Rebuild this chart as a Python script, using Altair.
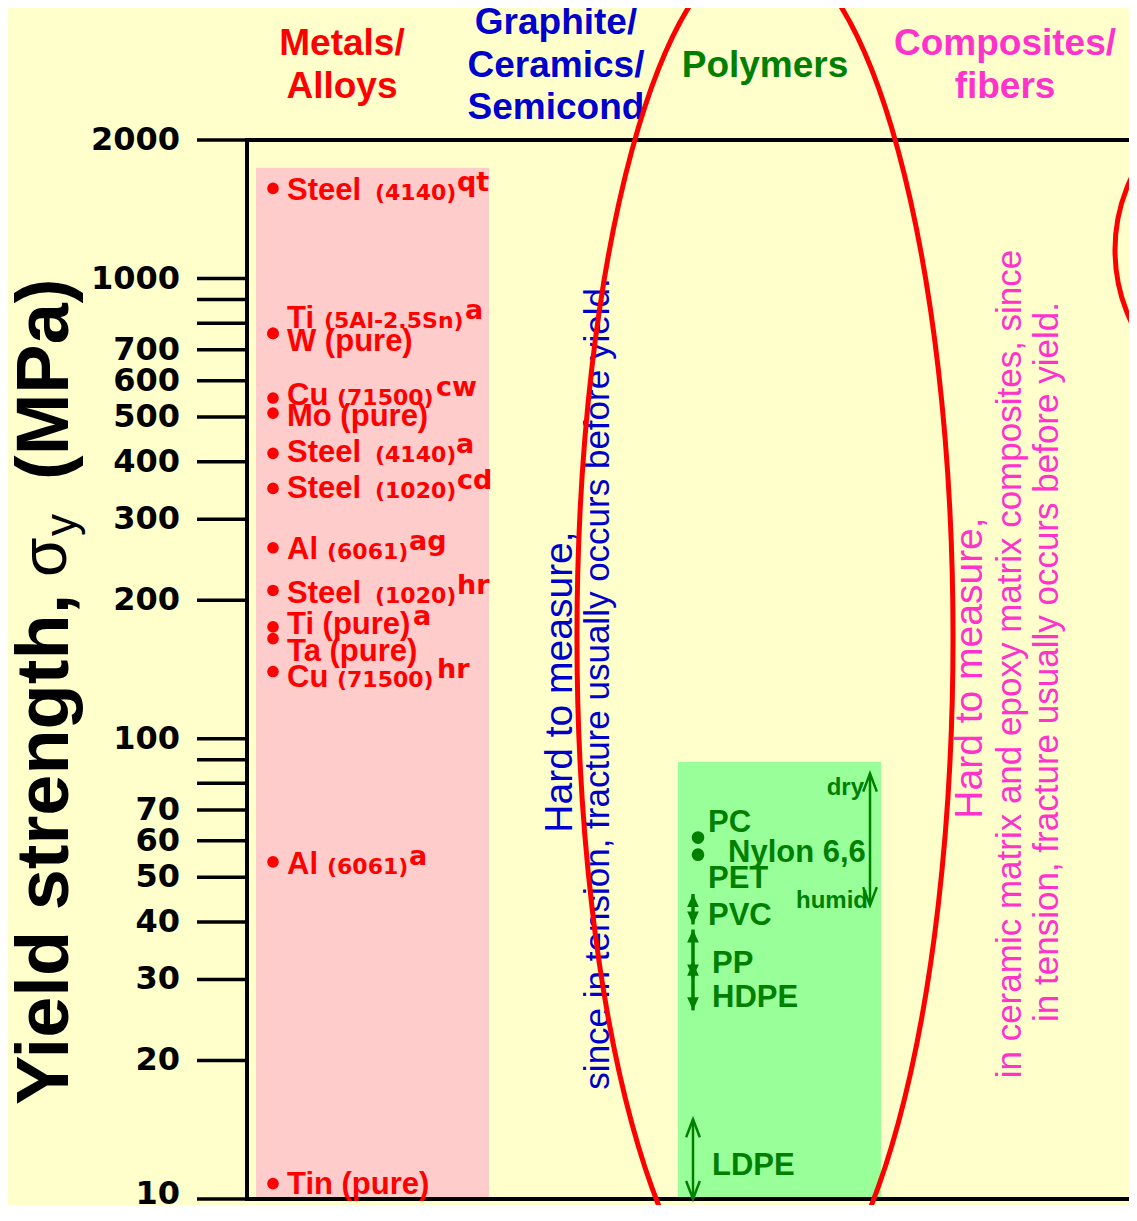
import math
import altair as alt
import pandas as pd

# ---------------- data ----------------
metal_main = ["Steel", "Ti", "W (pure)", "Cu", "Mo (pure)", "Steel", "Steel", "Al",
              "Steel", "Ti (pure)", "Ta (pure)", "Cu", "Al", "Tin (pure)"]
metal_grade = ["(4140)", "(5Al-2.5Sn)", "", "(71500)", "", "(4140)", "(1020)", "(6061)",
               "(1020)", "", "", "(71500)", "(6061)", ""]
metal_cond = ["qt", "a", "", "cw", "", "a", "cd", "ag", "hr", "a", "", "hr", "a", ""]
metal_ys = [1570, 760, 760, 550, 510, 417, 350, 260, 210, 175, 165, 140, 54, 10.8]

poly_dot_names = ["PC", "PET"]
poly_dot_ys = [61, 56]
poly_range_names = ["Nylon 6,6", "PVC", "PP", "HDPE", "LDPE"]
poly_range_low = [43.5, 39.5, 30.3, 25.7, 10]
poly_range_high = [84, 46, 38.5, 32.6, 14.9]

band_names = ["Metals/Alloys", "Polymers"]
band_top = [1740, 89]
band_bottom = [10, 10]

y_ticks = [10, 20, 30, 40, 50, 60, 70, 80, 90, 100, 200, 300, 400, 500, 600, 700, 800, 900, 1000, 2000]
y_tick_labels = ["10", "20", "30", "40", "50", "60", "70", "", "", "100", "200", "300", "400", "500",
                 "600", "700", "", "", "1000", "2000"]

headers = [["Metals/", "Alloys"], ["Graphite/", "Ceramics/", "Semicond"], ["Polymers"], ["Composites/", "fibers"]]

# ---------------- layout ----------------
W, H = 882, 1059
X0, Y0 = 247, 140          # page position of the plot origin
def px(v): return v - X0
def py(v): return v - Y0
DEC = H / math.log10(2000 / 10)   # pixels per decade

RED, BLUE, GREEN, MAG = "#FF0000", "#0000CC", "#008000", "#FF33CC"
SANS, WIDE = "Liberation Sans", "DejaVu Sans"

xs = alt.Scale(domain=[0, W], nice=False, zero=False)
ysc = alt.Scale(type="log", domain=[10, 2000], nice=False)

metal_label_dy = [12, -5, 18, 7, 13, 9, 10, 11, 13, 7, 22, 15, 12, 10]
metal_grade_x = [375, 324, None, 337, None, 375, 375, 327, 375, None, None, 337, 327, None]
metal_cond_x = [457, 465, None, 436, None, 456, 457, 409, 457, 413, None, 437, 409, None]

m = pd.DataFrame({"main": metal_main, "grade": metal_grade, "cond": metal_cond, "ys": metal_ys})
m["dy"] = metal_label_dy
m["ly"] = m["ys"] / 10 ** (m["dy"] / DEC)
m["sy"] = m["ys"] / 10 ** ((m["dy"] - 9) / DEC)
m["dotx"] = px(273)
m["labx"] = px(287)
m["gx"] = [px(v) if v else None for v in metal_grade_x]
m["cx"] = [px(v) if v else None for v in metal_cond_x]

bands = pd.DataFrame({"name": band_names, "top": band_top, "bottom": band_bottom,
                      "x0": [px(256), px(678)], "x1": [px(489), px(881)],
                      "fill": ["#FFCCCC", "#99FF99"]})

ticks = pd.DataFrame({"v": y_ticks, "label": y_tick_labels})
ticks["shift"] = [-5 if v == 10 else 0 for v in y_ticks]
pd_dots = pd.DataFrame({"name": poly_dot_names, "ys": poly_dot_ys, "x": px(698)})
pr = pd.DataFrame({"name": poly_range_names, "low": poly_range_low, "high": poly_range_high,
                   "x": [px(870), px(693), px(693), px(693), px(693)],
                   "style": ["open", "solid", "solid", "solid", "open"]})

X = lambda f: alt.X(f, scale=xs, axis=None)
Y = lambda f: alt.Y(f, scale=ysc, axis=None)

layers = []

# background bands
layers.append(alt.Chart(bands).mark_rect().encode(
    x=X("x0:Q"), x2="x1", y=Y("top:Q"), y2="bottom", color=alt.Color("fill:N", scale=None)))

# frame: top / bottom lines, left axis line, ticks, tick labels
layers.append(alt.Chart(pd.DataFrame({"y": [2000, 10]})).mark_rule(color="black", strokeWidth=4).encode(
    y=Y("y:Q"), x=alt.value(-2), x2=alt.value(W)))
layers.append(alt.Chart(pd.DataFrame({"a": [2000], "b": [10]})).mark_rule(color="black", strokeWidth=4).encode(
    y=Y("a:Q"), y2="b", x=alt.value(0)))
layers.append(alt.Chart(ticks).mark_rule(color="black", strokeWidth=3.5).encode(
    y=Y("v:Q"), x=alt.value(-50), x2=alt.value(0)))
tick_text = dict(align="right", baseline="middle", font=WIDE, fontWeight="bold", fontSize=32, color="black")
layers.append(alt.Chart(ticks).transform_filter("datum.shift == 0").mark_text(**tick_text).encode(
    y=Y("v:Q"), x=alt.value(-67), text="label:N"))
layers.append(alt.Chart(ticks).transform_filter("datum.shift != 0").mark_text(dy=-5, **tick_text).encode(
    y=Y("v:Q"), x=alt.value(-67), text="label:N"))

# metals
layers.append(alt.Chart(m).mark_circle(size=135, color=RED, opacity=1).encode(
    x=X("dotx:Q"), y=Y("ys:Q")))
layers.append(alt.Chart(m).mark_text(align="left", baseline="alphabetic", font=SANS, fontWeight="bold",
                                     fontSize=31, color=RED).encode(
    x=X("labx:Q"), y=Y("ly:Q"), text="main:N"))
layers.append(alt.Chart(m).transform_filter("datum.grade != ''").mark_text(
    align="left", baseline="alphabetic", font=WIDE, fontWeight="bold", fontSize=22, color=RED).encode(
    x=X("gx:Q"), y=Y("ly:Q"), text="grade:N"))
layers.append(alt.Chart(m).transform_filter("datum.cond != ''").mark_text(
    align="left", baseline="alphabetic", font=WIDE, fontWeight="bold", fontSize=27, color=RED).encode(
    x=X("cx:Q"), y=Y("sy:Q"), text="cond:N"))

# polymers
layers.append(alt.Chart(pd_dots).mark_circle(size=160, color=GREEN, opacity=1).encode(
    x=X("x:Q"), y=Y("ys:Q")))
for style, sw, up, down, sz, filled in [
        ("open", 2.5, "M-0.38,1L0,0L0.38,1", "M-0.38,-1L0,0L0.38,-1", 1296, False),
        ("solid", 3.5, "M-0.45,1L0,0L0.45,1Z", "M-0.45,-1L0,0L0.45,-1Z", 676, True)]:
    base = alt.Chart(pr).transform_filter("datum.style == '%s'" % style)
    layers.append(base.mark_rule(color=GREEN, strokeWidth=sw).encode(
        x=X("x:Q"), y=Y("low:Q"), y2="high"))
    layers.append(base.mark_point(shape=up, size=sz, filled=filled, color=GREEN, strokeWidth=sw, opacity=1).encode(
        x=X("x:Q"), y=Y("high:Q")))
    layers.append(base.mark_point(shape=down, size=sz, filled=filled, color=GREEN, strokeWidth=sw, opacity=1).encode(
        x=X("x:Q"), y=Y("low:Q")))


def txt(text, x, y, size, color, weight="bold", angle=0, align="center", baseline="middle", font=SANS):
    return alt.Chart(pd.DataFrame({"t": [text]})).mark_text(
        align=align, baseline=baseline, font=font, fontWeight=weight, fontSize=size,
        color=color, angle=angle).encode(x=alt.value(px(x)), y=alt.value(py(y)), text="t:N")


# polymer labels
for t, x, y in [("PC", 708, 832), ("Nylon 6,6", 728, 862), ("PET", 708, 888), ("PVC", 708, 925),
                ("PP", 712, 973), ("HDPE", 712, 1007), ("LDPE", 712, 1175)]:
    layers.append(txt(t, x, y, 31, GREEN, align="left", baseline="alphabetic"))
layers.append(txt("dry", 864, 795, 24, GREEN, align="right", baseline="alphabetic"))
layers.append(txt("humid", 868, 908, 24, GREEN, align="right", baseline="alphabetic"))

# column headers
hx = [342, 556, 765, 1005]
hy = [[44, 87], [23, 66, 108], [66], [44, 87]]
hc = [RED, BLUE, GREEN, MAG]
for lines, x, ys_, c in zip(headers, hx, hy, hc):
    for line, y in zip(lines, ys_):
        layers.append(txt(line, x, y, 37, c))

# rotated notes
layers.append(txt("Hard to measure,", 560, 682, 39, BLUE, weight="normal", angle=270))
layers.append(txt("since in tension, fracture usually occurs before yield.", 598, 684, 35, BLUE,
                  weight="normal", angle=270))
layers.append(txt("Hard to measure,", 970, 668, 39, MAG, weight="normal", angle=270))
layers.append(txt("in ceramic matrix and epoxy matrix composites, since", 1010, 664, 35, MAG,
                  weight="normal", angle=270))
layers.append(txt("in tension, fracture usually occurs before yield.", 1047, 662, 35, MAG,
                  weight="normal", angle=270))

# y-axis title
layers.append(txt("Yield strength,", 68, 1105, 74, "black", angle=270, align="left", baseline="alphabetic"))
layers.append(txt("\u03c3", 66, 577, 64, "black", weight="normal", angle=270, align="left", baseline="alphabetic"))
layers.append(txt("y", 76, 536, 44, "black", weight="normal", angle=270, align="left", baseline="alphabetic"))
layers.append(txt("(MPa)", 68, 480, 74, "black", angle=270, align="left", baseline="alphabetic"))

# red ellipses
def ellipse(cx, cy, a, b):
    r = a / b
    path = "M%.4f,0A%.4f,1,0,1,0,%.4f,0A%.4f,1,0,1,0,%.4f,0Z" % (-r, r, r, r, -r)
    return alt.Chart(pd.DataFrame({"e": [1]})).mark_point(
        shape=path, filled=False, color=RED, strokeWidth=5, opacity=1).encode(
        x=alt.value(px(cx)), y=alt.value(py(cy)), size=alt.value(4 * b * b))

layers.append(ellipse(765, 637, 188, 689))
layers.append(ellipse(1265, 250, 150, 159))

chart = alt.layer(*layers).properties(
    width=W, height=H,
    padding={"left": X0 - 8, "top": Y0 - 8, "right": 0, "bottom": 6},
    autosize=alt.AutoSizeParams(type="none"),
    background="#FFFFCC",
).configure_view(stroke=None)

chart.save("out.html", embed_options={"renderer": "svg", "actions": False})
